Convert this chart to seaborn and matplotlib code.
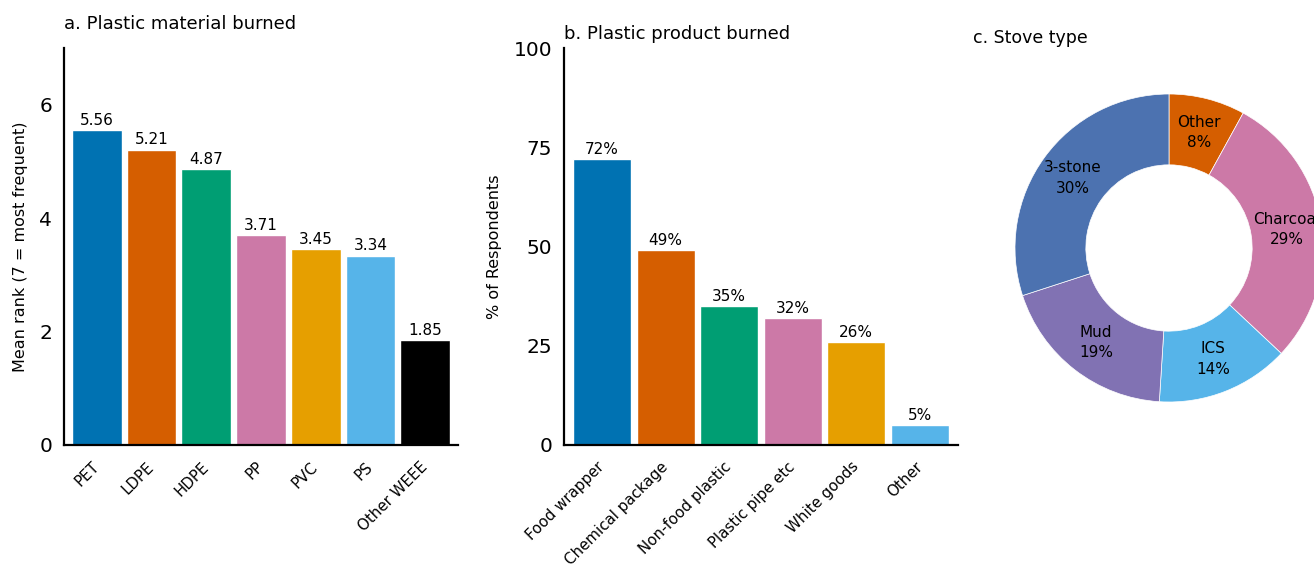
import numpy as np
import pandas as pd
import matplotlib
matplotlib.use("Agg")
import matplotlib.pyplot as plt
import seaborn as sns

# ---- data -------------------------------------------------------------
materials = ["PET", "LDPE", "HDPE", "PP", "PVC", "PS", "Other WEEE"]
material_rank = [5.56, 5.21, 4.87, 3.71, 3.45, 3.34, 1.85]

products = ["Food wrapper", "Chemical package", "Non-food plastic",
            "Plastic pipe etc", "White goods", "Other"]
product_pct = [72, 49, 35, 32, 26, 5]

stoves = ["Other", "Charcoal", "ICS", "Mud", "3-stone"]
stove_pct = [8, 29, 14, 19, 30]

material_colors = ["#0072B2", "#D55E00", "#009E73", "#CC79A7",
                   "#E69F00", "#56B4E9", "#000000"]
product_colors = ["#0072B2", "#D55E00", "#009E73", "#CC79A7",
                  "#E69F00", "#56B4E9"]
stove_colors = ["#D55E00", "#CC79A7", "#56B4E9", "#8172B3", "#4C72B0"]

# ---- style ------------------------------------------------------------
sns.set_theme(style="white")
plt.rcParams.update({
    "text.color": "black",
    "axes.labelcolor": "black",
    "xtick.color": "black",
    "ytick.color": "black",
    "axes.edgecolor": "black",
})
plt.rcParams["font.family"] = ["DejaVu Sans"]

W, H = 1314, 570
fig = plt.figure(figsize=(W / 100, H / 100), dpi=100)


def px_axes(left, top, right, bottom):
    return fig.add_axes([left / W, 1 - bottom / H,
                         (right - left) / W, (bottom - top) / H])


ax_a = px_axes(64, 48, 458, 445)
ax_b = px_axes(564, 48, 958, 445)
ax_c = px_axes(1015, 94, 1323, 402)


def style_bar_axes(ax):
    ax.spines[["top", "right"]].set_visible(False)
    for side in ("left", "bottom"):
        ax.spines[side].set_linewidth(1.6)
        ax.spines[side].set_color("black")
    ax.tick_params(axis="y", length=0, pad=8.5, labelsize=14.5)
    ax.tick_params(axis="x", length=0, pad=14, labelsize=10.8)
    plt.setp(ax.get_xticklabels(), rotation=45, ha="right", va="center",
             rotation_mode="anchor")
    ax.set_xlabel("")


# ---- a. plastic material ---------------------------------------------
df_a = pd.DataFrame({"material": materials, "rank": material_rank})
sns.barplot(data=df_a, x="material", y="rank", hue="material",
            order=materials, hue_order=materials, palette=material_colors,
            width=0.91, saturation=1, legend=False, ax=ax_a)
for cont in ax_a.containers:
    ax_a.bar_label(cont, fmt="{:.2f}", padding=1.5, fontsize=11)
ax_a.set_ylim(0, 7)
ax_a.set_xlim(-0.6, 6.6)
ax_a.set_yticks([0, 2, 4, 6])
ax_a.set_ylabel("Mean rank (7 = most frequent)", fontsize=11.5, labelpad=8)
style_bar_axes(ax_a)
ax_a.set_title("a. Plastic material burned", loc="left", fontsize=13, pad=13.7)

# ---- b. plastic product ----------------------------------------------
df_b = pd.DataFrame({"product": products, "pct": product_pct})
sns.barplot(data=df_b, x="product", y="pct", hue="product",
            order=products, hue_order=products, palette=product_colors,
            width=0.91, saturation=1, legend=False, ax=ax_b)
for cont in ax_b.containers:
    ax_b.bar_label(cont, fmt="{:.0f}%", padding=1.5, fontsize=11)
ax_b.set_ylim(0, 100)
ax_b.set_xlim(-0.6, 5.6)
ax_b.set_yticks([0, 25, 50, 75, 100])
ax_b.set_ylabel("% of Respondents", fontsize=11.5, labelpad=8)
style_bar_axes(ax_b)
ax_b.set_title("b. Plastic product burned", loc="left", fontsize=13, pad=6.8)

# ---- c. stove type (donut) -------------------------------------------
wedges, _ = ax_c.pie(stove_pct, colors=stove_colors, startangle=90,
                     counterclock=False, radius=1,
                     wedgeprops=dict(width=0.46, edgecolor="white",
                                     linewidth=0.5))
for w, name, pct in zip(wedges, stoves, stove_pct):
    ang = np.deg2rad((w.theta1 + w.theta2) / 2)
    ax_c.text(0.775 * np.cos(ang), 0.775 * np.sin(ang), f"{name}\n{pct}%",
              ha="center", va="center", fontsize=11, linespacing=1.45)
ax_c.set_xlim(-1, 1)
ax_c.set_ylim(-1, 1)
ax_c.set_title("c. Stove type", loc="left", x=-0.136, y=1.166, pad=0,
               fontsize=12.5)

fig.savefig("out.png", dpi=100)
